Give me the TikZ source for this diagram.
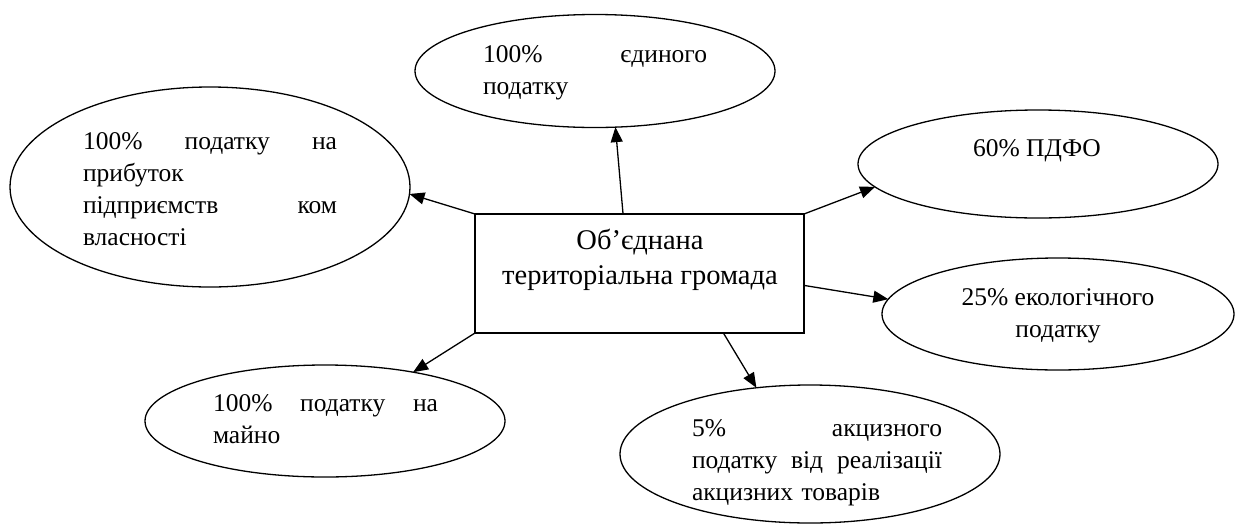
\documentclass[tikz,border=0pt]{standalone}
\usepackage{fontspec}
\setmainfont{Liberation Serif}
\usetikzlibrary{shapes.geometric,arrows.meta,calc}
\tikzset{
  oval/.style={draw, ellipse, line width=1.3pt, inner sep=0pt, outer sep=0pt},
  hub/.style={draw, rectangle, line width=1.3pt, inner sep=0pt, outer sep=0pt},
  txt/.style={inner sep=0pt, outer sep=0pt, font=\fontsize{25.5}{32}\selectfont},
  arr/.style={line width=1.3pt, -{Triangle[length=15pt,width=12pt]}}
}
\begin{document}
\begin{tikzpicture}[x=1pt,y=-1pt]
\useasboundingbox (0,0) rectangle (1235,528);
% center box
\node[hub, minimum width=329pt, minimum height=119pt] (c) at (639.5,273.5) {};
\node[inner sep=0pt, align=center, font=\fontsize{28.5}{35}\selectfont, anchor=north] (ct) at (640,229) {Об’єднана\\територіальна громада};
% ellipses
\node[oval, minimum width=360pt, minimum height=113pt] (top) at (595,71) {};
\node[oval, minimum width=400pt, minimum height=200pt] (left) at (210,187) {};
\node[oval, minimum width=360pt, minimum height=108pt] (pdfo) at (1038,164) {};
\node[oval, minimum width=352pt, minimum height=112pt] (eco) at (1058,314) {};
\node[oval, minimum width=360pt, minimum height=112pt] (mayno) at (325,421) {};
\node[oval, minimum width=380pt, minimum height=138pt] (akc) at (810,454) {};
% texts
\node[txt, text width=224pt, align=left, anchor=north west] (topt) at (483,46) {100\%\hfill єдиного\\податку};
\node[txt, text width=254pt, align=left, anchor=north west] (leftt) at (83,133) {100\%\hfill податку\hfill на\\прибуток\\підприємств\hfill ком\\власності};
\node[txt, anchor=north] (pdfot) at (1037,140) {60\% ПДФО};
\node[txt, align=center, anchor=north] (ecot) at (1058,289) {25\% екологічного\\податку};
\node[txt, text width=225pt, align=left, anchor=north west] (maynot) at (213,395) {100\%\hfill податку\hfill на\\майно};
\node[txt, text width=250pt, align=left, anchor=north west] (akct) at (692,420) {5\%\hfill акцизного\\податку\hfill від\hfill реалізації\\акцизних товарів};
% arrows
\draw[arr] ($(c.north west)!0.45!(c.north east)$) -- (top.-70);
\draw[arr] (c.north west) -- (left.-2);
\draw[arr] (c.north east) -- (pdfo.188);
\draw[arr] ($(c.north east)!0.6!(c.south east)$) -- (eco.175);
\draw[arr] ($(c.south west)!0.755!(c.south east)$) -- (akc.129);
\draw[arr] (c.south west) -- (mayno.29.5);
\end{tikzpicture}
\end{document}
